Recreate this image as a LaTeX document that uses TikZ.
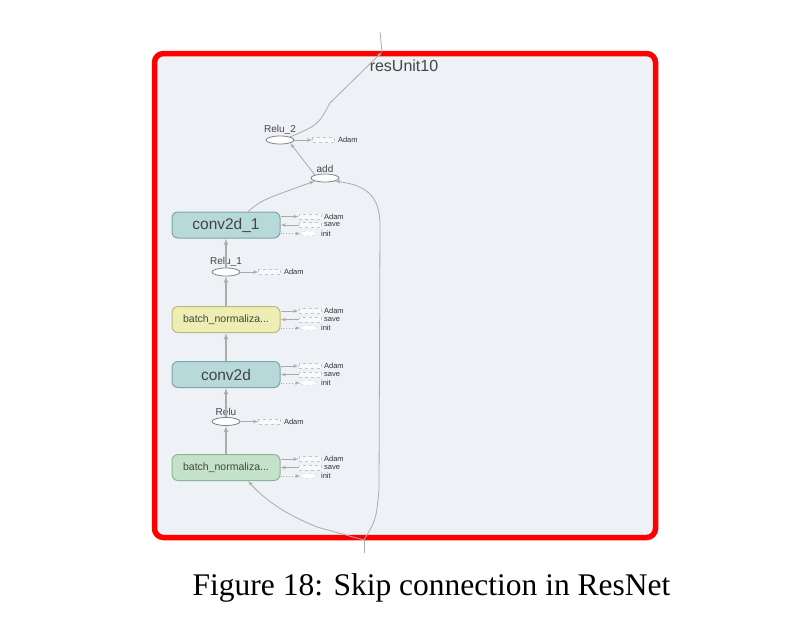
\documentclass[tikz,border=0pt]{standalone}
\usepackage{fontspec}
\setmainfont{Liberation Sans}
\newfontfamily\captionfont{Liberation Serif}
\usepackage{tikz}
\usepackage{xcolor}
\usetikzlibrary{calc}
\usetikzlibrary{positioning}
\usetikzlibrary{shapes,arrows}

\definecolor{bgGray}{HTML}{EEF1F6}
\definecolor{edgeGray}{HTML}{ABABAB}
\definecolor{tealFill}{HTML}{B8D9D9}
\definecolor{tealLine}{HTML}{7FA6A6}
\definecolor{yellowFill}{HTML}{EEEDB2}
\definecolor{yellowLine}{HTML}{BDBB7C}
\definecolor{greenFill}{HTML}{C4E2C9}
\definecolor{greenLine}{HTML}{8FB398}
\definecolor{textGray}{HTML}{444444}

\begin{document}
\begin{tikzpicture} [x=1pt, y=-1pt, >=latex', node distance = 18pt]
            % Set primary nodes
            \tikzset{
                opNode/.style={
                        draw,
                        rectangle,
                        rounded corners=6pt,
                        line width=1pt,
                        minimum height=26pt,
                        minimum width=108pt,
                        inner sep=0pt,
                        text=textGray
                    }
            }
            \tikzset{
                reluNode/.style={
                        draw=gray,
                        ellipse,
                        fill=white,
                        line width=0.8pt,
                        minimum height=8pt,
                        minimum width=28pt,
                        inner sep=0pt
                    }
            }
            \tikzset{
                auxBox/.style={
                        draw=gray!45,
                        dashed,
                        rectangle,
                        fill=white!60!bgGray,
                        minimum height=5pt,
                        minimum width=22pt,
                        inner sep=0pt
                    }
            }
            \tikzset{
                initNode/.style={
                        draw=gray!35,
                        dashed,
                        ellipse,
                        fill=white,
                        minimum height=5pt,
                        minimum width=16pt,
                        inner sep=0pt
                    }
            }
            \tikzset{
                auxLabel/.style={
                        inner sep=0pt,
                        text=black!80,
                        font=\fontsize{7.5}{8}\selectfont
                    }
            }
            \tikzset{
                reluLabel/.style={
                        inner sep=1pt,
                        text=textGray,
                        font=\fontsize{10}{11}\selectfont
                    }
            }
            % Configure arrows
            \tikzstyle{arrow} = [draw=edgeGray, line width=0.8pt, ->]
            \tikzstyle{flow} = [draw=edgeGray, line width=1.2pt, ->]
            \useasboundingbox (0,0) rectangle (800,625);
            % Frame
            \draw[line width=5.5pt, draw=red, fill=bgGray, rounded corners=9pt] (154.5,53.5) rectangle (655.5,537.5);
            \node[text=textGray, font=\fontsize{16}{18}\selectfont] (unitName) at (404,66) {resUnit10};
            % Placing nodes
            \node[opNode, fill=tealFill, draw=tealLine, font=\fontsize{15.5}{18}\selectfont] (conv2dOne) at (226,225) {conv2d\_1};
            \node[opNode, fill=yellowFill, draw=yellowLine, font=\fontsize{10.5}{12}\selectfont] (bnTop) at (226,319.5) {batch\_normaliza...};
            \node[opNode, fill=tealFill, draw=tealLine, font=\fontsize{15.5}{18}\selectfont] (conv2dZero) at (226,374.5) {conv2d};
            \node[opNode, fill=greenFill, draw=greenLine, font=\fontsize{10.5}{12}\selectfont] (bnBottom) at (226,467.5) {batch\_normaliza...};
            \node[reluNode, label={[reluLabel, label distance=0pt]above:Relu\_2}] (reluTwo) at (280,140) {};
            \node[reluNode, label={[reluLabel, label distance=0pt]above:add}] (add) at (325,178) {};
            \node[reluNode, label={[reluLabel, label distance=0pt]above:Relu\_1}] (reluOne) at (226,272) {};
            \node[reluNode, label={[reluLabel, label distance=0pt]above:Relu}] (reluZero) at (226,421.5) {};
            \coordinate (outPort) at (382,52);
            \coordinate (outTop) at (380,32);
            \coordinate (inPort) at (364,540);
            \coordinate (inBottom) at (364,553);
            % Side nodes
            \foreach \op in {conv2dOne, bnTop, conv2dZero, bnBottom} {
                \node[auxBox, right = of \op.east, yshift=8.5pt] (\op-adam) {};
                \node[auxBox, right = of \op.east] (\op-save) {};
                \node[initNode, right = 20pt of \op.east, yshift=-8.5pt] (\op-init) {};
                \node[auxLabel, right = 3pt of \op-adam] {Adam};
                \node[auxLabel, right = 3pt of \op-save] {save};
                \node[auxLabel, right = 4pt of \op-init] {init};
                \draw[arrow] (\op.east |- \op-adam) -- (\op-adam);
                \draw[arrow, <-] (\op.east |- \op-save) -- (\op-save);
                \draw[arrow, dotted] (\op.east |- \op-init) -- (\op-init);
            }
            \foreach \rl in {reluTwo, reluOne, reluZero} {
                \node[auxBox, right = of \rl.east] (\rl-adam) {};
                \node[auxLabel, right = 3pt of \rl-adam] {Adam};
                \draw[arrow] (\rl) -- (\rl-adam);
            }
            % Draw arrows
            \draw[flow] (bnBottom) -- (reluZero);
            \draw[flow] (reluZero) -- (conv2dZero);
            \draw[flow] (conv2dZero) -- (bnTop);
            \draw[flow] (bnTop) -- (reluOne);
            \draw[flow] (reluOne) -- (conv2dOne);
            \draw[arrow] ([xshift=22pt]conv2dOne.north) .. controls (262,200) .. (add.south west);
            \draw[arrow] (add.north west) -- (reluTwo.south east);
            \draw[arrow] (reluTwo.north east) .. controls (318,125) .. (330,103) -- (outPort);
            \draw[draw=edgeGray, line width=0.8pt] (outPort) -- (outTop);
            \draw[draw=edgeGray, line width=0.8pt] (inBottom) -- (inPort);
            \draw[arrow] (inPort) -- (317,527) .. controls (285,514) and (265,500) .. ([xshift=22pt]bnBottom.south);
            \draw[arrow] (inPort) .. controls (376,520) .. (379,490) -- (380,225) .. controls (380,195) and (365,185) .. (add.south east);
            % Caption
            \node[font=\captionfont\fontsize{31.5}{36}\selectfont] (caption) at (431.5,588) {Figure 18: Skip connection in ResNet};
        \end{tikzpicture}
\end{document}
